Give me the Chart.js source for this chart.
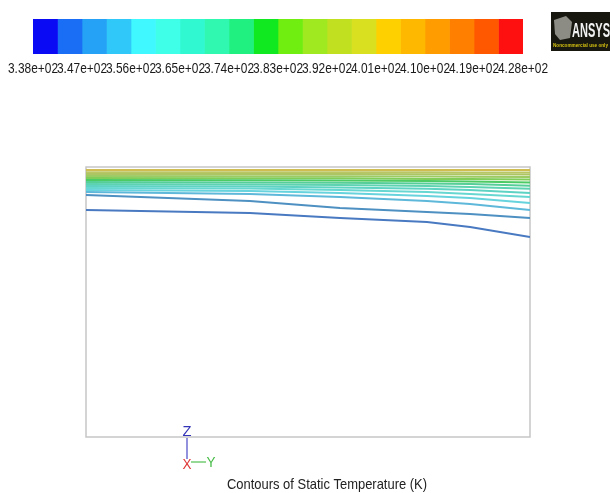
<!DOCTYPE html>
<html>
<head>
<meta charset="utf-8">
<script src="https://cdn.jsdelivr.net/npm/chart.js@4/dist/chart.umd.min.js"></script>
<style>
  body { margin: 0; background: #fff; }
  #wrap { position: relative; width: 610px; height: 493px; }
  canvas { position: absolute; left: 0; top: 0; }
</style>
</head>
<body>
<div id="wrap">
  <canvas id="plot" width="610" height="493"></canvas>
  <canvas id="legend" width="610" height="80"></canvas>
</div>
<script>
// colour bar: 20 bands, labelled every second boundary
const tempLabels = ["3.38e+02", "3.47e+02", "3.56e+02", "3.65e+02", "3.74e+02", "3.83e+02",
  "3.92e+02", "4.01e+02", "4.10e+02", "4.19e+02", "4.28e+02"]
const tempMin = 338
const tempMax = 428

// contour levels (K), bottom to top, and their heights (fraction of domain height)
// sampled at the same x stations (fraction of domain length)
const contourX = [0, 0.369, 0.572, 0.768, 0.865, 1]
const contourLevels = [342.5, 347, 351.5, 356, 360.5, 365, 369.5, 374, 378.5, 383, 387.5, 392, 396.5, 401]
const contourY = [
  [0.841, 0.830, 0.811, 0.796, 0.778, 0.741],
  [0.896, 0.874, 0.848, 0.833, 0.826, 0.811],
  [0.907, 0.900, 0.889, 0.874, 0.863, 0.841],
  [0.915, 0.911, 0.904, 0.893, 0.885, 0.867],
  [0.922, 0.920, 0.915, 0.907, 0.900, 0.889],
  [0.930, 0.928, 0.924, 0.919, 0.915, 0.904],
  [0.937, 0.935, 0.933, 0.930, 0.926, 0.919],
  [0.944, 0.943, 0.942, 0.939, 0.937, 0.931],
  [0.952, 0.951, 0.950, 0.948, 0.946, 0.943],
  [0.959, 0.958, 0.958, 0.956, 0.956, 0.954],
  [0.967, 0.966, 0.966, 0.965, 0.964, 0.963],
  [0.974, 0.974, 0.974, 0.973, 0.973, 0.972],
  [0.981, 0.981, 0.981, 0.981, 0.980, 0.980],
  [0.989, 0.989, 0.989, 0.989, 0.989, 0.989]
]

// Fluent-style banded rainbow
const bandColors = [
  "#0a0af5", "#1a6ef5", "#25a2f5", "#30c8f8", "#40f8ff", "#40ffe8", "#30f8d0",
  "#30f8b0", "#20f080", "#10e820", "#70ee10", "#a0e820", "#c0e020", "#d8e020",
  "#ffd000", "#ffb800", "#ff9c00", "#ff8000", "#ff5800", "#ff1010"
]
const font = "'Liberation Sans', Arial, sans-serif"

const bandWidth = (tempMax - tempMin) / bandColors.length

// contour lines look washed out in the capture, so pull colours towards grey
const lineColor = (t) => {
  const i = Math.min(bandColors.length - 1, Math.floor((t - tempMin) / bandWidth + 1e-6))
  const h = bandColors[i]
  const rgb = [1, 3, 5].map(p => parseInt(h.slice(p, p + 2), 16))
  const grey = i < 3 ? [110, 130, 150] : [150, 165, 180]
  const w = i < 3 ? 0.55 : 0.45
  const m = rgb.map((v, k) => Math.round(v * (1 - w) + grey[k] * w))
  return `rgb(${m[0]}, ${m[1]}, ${m[2]})`
}

// the capture uses a condensed face: squeeze labels to their slot with maxWidth
const barLabels = {
  id: "barLabels",
  afterDraw(chart) {
    const c = chart.ctx
    const s = chart.scales.x
    c.save()
    c.fillStyle = "#1a1a1a"
    c.font = `14px ${font}`
    c.textAlign = "center"
    c.textBaseline = "top"
    s.ticks.forEach((t, i) => {
      c.fillText(tempLabels[i], s.getPixelForValue(t.value), chart.chartArea.bottom + 8, 50)
    })
    c.restore()
  }
}

const logo = {
  id: "logo",
  afterDraw(chart) {
    const c = chart.ctx
    c.save()
    c.fillStyle = "#17170f"
    c.fillRect(551, 12, 59, 39)
    c.fillStyle = "#8c8c84"
    c.beginPath()
    c.moveTo(554, 20); c.lineTo(566, 16); c.lineTo(572, 22); c.lineTo(570, 38)
    c.lineTo(560, 40); c.lineTo(555, 34); c.closePath(); c.fill()
    c.fillStyle = "#f2f2f2"
    c.font = `bold 20px ${font}`
    c.textBaseline = "alphabetic"
    c.fillText("ANSYS", 572, 37, 38)
    c.fillStyle = "#d4c010"
    c.font = `bold 5px ${font}`
    c.fillText("Noncommercial use only", 553, 47, 55)
    c.restore()
  }
}

new Chart(document.getElementById("legend"), {
  type: "bar",
  data: {
    labels: [""],
    datasets: bandColors.map(col => ({
      data: [1],
      backgroundColor: col,
      borderWidth: 0,
      barPercentage: 1,
      categoryPercentage: 1
    }))
  },
  options: {
    indexAxis: "y",
    responsive: false,
    animation: false,
    events: [],
    layout: { padding: { left: 33, right: 87, top: 19, bottom: 0 } },
    plugins: { legend: { display: false }, tooltip: { enabled: false } },
    scales: {
      x: {
        stacked: true,
        min: 0,
        max: bandColors.length,
        grid: { display: false },
        border: { display: false },
        afterFit: (s) => { s.height = 26 },
        ticks: {
          stepSize: 2,
          autoSkip: false,
          maxRotation: 0,
          color: "rgba(0,0,0,0)",
          font: { family: font, size: 14 }
        }
      },
      y: { stacked: true, display: false }
    }
  },
  plugins: [barLabels, logo]
})

const frame = {
  id: "frame",
  beforeDatasetsDraw(chart) {
    const { ctx: c, chartArea: a } = chart
    c.save()
    c.strokeStyle = "#c6c6c6"
    c.lineWidth = 1.5
    c.strokeRect(a.left, a.top, a.right - a.left, a.bottom - a.top)
    c.restore()
  },
  afterDraw(chart) {
    const { ctx: c, chartArea: a } = chart
    const ox = a.left + 101
    c.save()
    c.lineWidth = 1.2
    c.strokeStyle = "#4848c8"
    c.beginPath(); c.moveTo(ox, a.bottom + 1); c.lineTo(ox, a.bottom + 22); c.stroke()
    c.strokeStyle = "#50c050"
    c.beginPath(); c.moveTo(ox + 4, a.bottom + 25); c.lineTo(ox + 19, a.bottom + 25); c.stroke()
    c.font = `15px ${font}`
    c.textAlign = "center"
    c.textBaseline = "middle"
    c.fillStyle = "#3434b8"
    c.fillText("Z", ox, a.bottom - 5, 9)
    c.fillStyle = "#e03838"
    c.fillText("X", ox, a.bottom + 28, 9)
    c.fillStyle = "#44bb44"
    c.fillText("Y", ox + 24, a.bottom + 26, 9)
    c.fillStyle = "#222"
    c.font = `15px ${font}`
    c.fillText("Contours of Static Temperature (K)", a.left + 241, a.bottom + 48, 200)
    c.restore()
  }
}

new Chart(document.getElementById("plot"), {
  type: "line",
  data: {
    datasets: contourLevels.map((t, i) => ({
      label: String(t),
      data: contourX.map((x, j) => ({ x, y: contourY[i][j] })),
      borderColor: lineColor(t),
      borderWidth: 2,
      pointRadius: 0,
      tension: 0,
      fill: false
    }))
  },
  options: {
    responsive: false,
    animation: false,
    events: [],
    layout: { padding: { left: 86, right: 80, top: 167, bottom: 56 } },
    plugins: { legend: { display: false }, tooltip: { enabled: false } },
    scales: {
      x: { type: "linear", min: 0, max: 1, display: false },
      y: { type: "linear", min: 0, max: 1, display: false }
    }
  },
  plugins: [frame]
})
</script>
</body>
</html>
